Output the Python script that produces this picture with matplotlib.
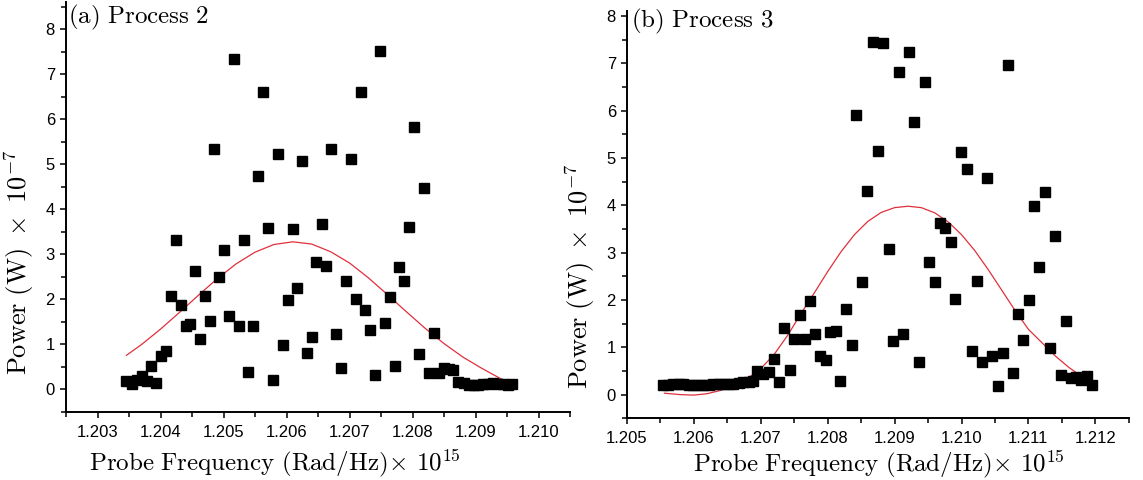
import matplotlib
matplotlib.use('Agg')
import matplotlib.pyplot as plt
from matplotlib.ticker import MultipleLocator, FormatStrFormatter

# Fonts: sans tick labels, Computer Modern for axis labels and panel titles
plt.rcParams['font.family'] = ['Liberation Sans', 'DejaVu Sans']
plt.rcParams['mathtext.fontset'] = 'cm'

# Panel (a) Process 2 - measured points (frequency x 1e15, power x 1e-7 W)
freq_a = [1.20346, 1.20354, 1.20362, 1.20370, 1.20378, 1.20385, 1.20393, 1.20401, 1.20409, 1.20416,
          1.20424, 1.20432, 1.20440, 1.20447, 1.20455, 1.20462, 1.20470, 1.20478, 1.20485, 1.20493,
          1.20501, 1.20509, 1.20516, 1.20525, 1.20532, 1.20539, 1.20547, 1.20555, 1.20563, 1.20571,
          1.20579, 1.20586, 1.20594, 1.20602, 1.20610, 1.20617, 1.20625, 1.20632, 1.20640, 1.20647,
          1.20656, 1.20663, 1.20671, 1.20679, 1.20686, 1.20694, 1.20702, 1.20710, 1.20718, 1.20725,
          1.20733, 1.20740, 1.20748, 1.20756, 1.20764, 1.20772, 1.20779, 1.20787, 1.20794, 1.20803,
          1.20810, 1.20818, 1.20826, 1.20834, 1.20842, 1.20850, 1.20858, 1.20865, 1.20873, 1.20881,
          1.20889, 1.20897, 1.20904, 1.20912, 1.20920, 1.20928, 1.20936, 1.20944, 1.20952, 1.20958]
power_a = [0.18, 0.12, 0.22, 0.30, 0.18, 0.52, 0.15, 0.75, 0.86, 2.07,
           3.33, 1.87, 1.41, 1.45, 2.63, 1.12, 2.07, 1.52, 5.34, 2.49,
           3.10, 1.63, 7.33, 1.41, 3.33, 0.38, 1.41, 4.75, 6.60, 3.58,
           0.20, 5.23, 0.99, 1.98, 3.56, 2.26, 5.08, 0.82, 1.16, 2.84,
           3.67, 2.74, 5.34, 1.24, 0.47, 2.41, 5.13, 2.00, 6.60, 1.76,
           1.33, 0.32, 7.52, 1.48, 2.06, 0.53, 2.73, 2.41, 3.62, 5.83,
           0.78, 4.47, 0.37, 1.26, 0.37, 0.47, 0.46, 0.44, 0.16, 0.15,
           0.09, 0.09, 0.09, 0.12, 0.12, 0.15, 0.12, 0.12, 0.09, 0.12]

# Panel (a) fitted curve
fit_freq_a = [1.20346, 1.2037, 1.2040, 1.2043, 1.2046, 1.2049, 1.2052, 1.2055, 1.2058, 1.2061,
              1.2064, 1.2067, 1.2070, 1.2073, 1.2076, 1.2079, 1.2082, 1.2085, 1.2088, 1.2091,
              1.2094, 1.20958]
fit_power_a = [0.76, 1.00, 1.34, 1.71, 2.09, 2.46, 2.79, 3.05, 3.22, 3.28,
               3.23, 3.06, 2.81, 2.48, 2.11, 1.73, 1.36, 1.02, 0.72, 0.47,
               0.24, 0.13]

# Panel (b) Process 3 - measured points
freq_b = [1.20554, 1.20562, 1.20569, 1.20577, 1.20584, 1.20592, 1.20599, 1.20607, 1.20614, 1.20622,
          1.20629, 1.20637, 1.20644, 1.20652, 1.20659, 1.20667, 1.20674, 1.20682, 1.20689, 1.20695,
          1.20704, 1.20712, 1.20719, 1.20727, 1.20734, 1.20743, 1.20750, 1.20758, 1.20766, 1.20774,
          1.20781, 1.20788, 1.20797, 1.20803, 1.20812, 1.20819, 1.20827, 1.20836, 1.20843, 1.20851,
          1.20859, 1.20867, 1.20875, 1.20882, 1.20891, 1.20898, 1.20906, 1.20913, 1.20921, 1.20929,
          1.20936, 1.20945, 1.20952, 1.20960, 1.20968, 1.20975, 1.20984, 1.20991, 1.20999, 1.21008,
          1.21015, 1.21023, 1.21031, 1.21038, 1.21046, 1.21054, 1.21062, 1.21070, 1.21077, 1.21085,
          1.21092, 1.21101, 1.21108, 1.21116, 1.21125, 1.21132, 1.21140, 1.21148, 1.21156, 1.21164,
          1.21171, 1.21179, 1.21187, 1.21195]
power_b = [0.21, 0.20, 0.22, 0.23, 0.22, 0.21, 0.21, 0.20, 0.20, 0.21,
           0.22, 0.23, 0.22, 0.22, 0.23, 0.25, 0.26, 0.27, 0.29, 0.50,
           0.44, 0.48, 0.75, 0.27, 1.40, 0.53, 1.17, 1.68, 1.17, 1.97,
           1.28, 0.82, 0.73, 1.33, 1.34, 0.29, 1.81, 1.04, 5.90, 2.37,
           4.30, 7.45, 5.14, 7.43, 3.08, 1.13, 6.81, 1.28, 7.24, 5.76,
           0.68, 6.60, 2.81, 2.37, 3.63, 3.52, 3.23, 2.02, 5.12, 4.76,
           0.93, 2.40, 0.68, 4.57, 0.82, 0.18, 0.87, 6.97, 0.46, 1.70,
           1.15, 1.99, 3.99, 2.69, 4.28, 0.98, 3.35, 0.41, 1.56, 0.35,
           0.37, 0.30, 0.39, 0.21]

# Panel (b) fitted curve
fit_freq_b = [1.20556, 1.2058, 1.2060, 1.2062, 1.2064, 1.2066, 1.2068, 1.2070, 1.2072, 1.2074,
              1.2076, 1.2078, 1.2080, 1.2082, 1.2084, 1.2086, 1.2088, 1.2090, 1.2092, 1.2094,
              1.2096, 1.2098, 1.2100, 1.2102, 1.2104, 1.2106, 1.2108, 1.2110, 1.2112, 1.2114,
              1.2116, 1.2118, 1.21195]
fit_power_b = [0.03, 0.00, -0.01, 0.02, 0.09, 0.20, 0.34, 0.55, 0.85, 1.25,
               1.71, 2.15, 2.60, 3.02, 3.38, 3.66, 3.85, 3.95, 3.98, 3.95,
               3.84, 3.65, 3.38, 3.04, 2.64, 2.21, 1.78, 1.38, 1.10, 0.82,
               0.58, 0.38, 0.23]

W, H = 1143, 480
fig = plt.figure(figsize=(W / 100, H / 100), dpi=100)
ax1 = fig.add_axes([66 / W, 68 / H, 504 / W, 409.7 / H])
ax2 = fig.add_axes([627 / W, 61.7 / H, 501.75 / W, 407.1 / H])

panels = [
    (ax1, freq_a, power_a, fit_freq_a, fit_power_a, r'$\mathrm{(a)\ Process\ 2}$',
     (1.2025, 1.2105), (-0.5, 8.6), (0.004, 0.962), (-0.060, 0.365), (0.415, -0.085)),
    (ax2, freq_b, power_b, fit_freq_b, fit_power_b, r'$\mathrm{(b)\ Process\ 3}$',
     (1.205, 1.2125), (-0.5, 8.1), (0.008, 0.975), (-0.060, 0.35), (0.502, -0.072)),
]

for ax, fx, py, cx, cy, title, xlim, ylim, tpos, ylpos, xlpos in panels:
    ax.plot(cx, cy, color='#e0303c', lw=0.9, zorder=2)
    ax.plot(fx, py, 's', ms=6.6, color='black', mec='black', zorder=3)

    ax.set_xlim(*xlim)
    ax.set_ylim(*ylim)
    ax.xaxis.set_major_locator(MultipleLocator(0.001))
    ax.xaxis.set_minor_locator(MultipleLocator(0.0005))
    ax.xaxis.set_major_formatter(FormatStrFormatter('%.3f'))
    ax.yaxis.set_major_locator(MultipleLocator(1))
    ax.yaxis.set_minor_locator(MultipleLocator(0.5))
    ax.yaxis.set_major_formatter(FormatStrFormatter('%d'))

    for side in ['top', 'right']:
        ax.spines[side].set_visible(False)
    for side in ['left', 'bottom']:
        ax.spines[side].set_linewidth(1.4)
    ax.tick_params(which='major', direction='out', length=4.5, width=1.1, labelsize=12)
    ax.tick_params(axis='x', which='major', pad=5)
    ax.tick_params(which='minor', direction='out', length=3.5, width=1.1)

    ax.text(tpos[0], tpos[1], title, transform=ax.transAxes, ha='left', va='center', fontsize=18)
    ax.set_ylabel(r'$\mathrm{Power\ (W)}\ \times\ 10^{-7}$', fontsize=19)
    ax.yaxis.set_label_coords(*ylpos)
    ax.set_xlabel(r'$\mathrm{Probe\ Frequency\ (Rad/Hz)}\!\times\,10^{15}$', fontsize=18)
    ax.xaxis.set_label_coords(*xlpos)

fig.savefig('out.png', dpi=100)
